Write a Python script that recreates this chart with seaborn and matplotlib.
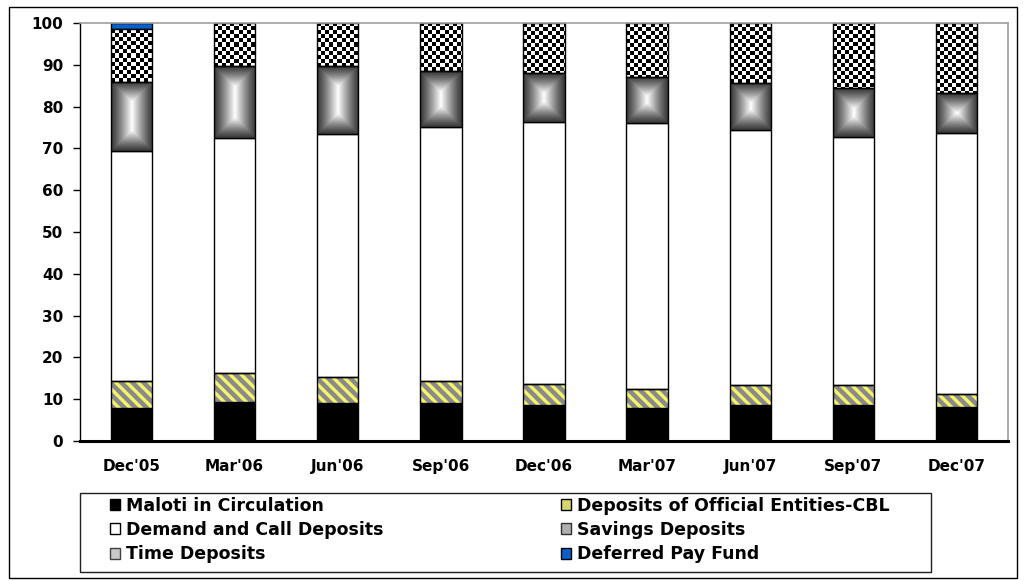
import numpy as np
import matplotlib
matplotlib.use("Agg")
import matplotlib.pyplot as plt
import seaborn as sns
from matplotlib.patches import Patch, Rectangle

quarters = ["Dec'05", "Mar'06", "Jun'06", "Sep'06", "Dec'06", "Mar'07", "Jun'07", "Sep'07", "Dec'07"]
maloti = [7.9, 9.4, 9.0, 9.0, 8.6, 7.8, 8.6, 8.6, 8.2]
cbl = [6.5, 6.9, 6.2, 5.3, 5.0, 4.6, 4.7, 4.7, 3.0]
demand = [55.0, 56.3, 58.2, 60.9, 62.8, 63.6, 61.1, 59.5, 62.6]
savings = [16.6, 17.0, 16.2, 13.2, 11.7, 11.2, 11.3, 11.6, 9.5]
time_dep = [12.5, 10.4, 10.4, 11.6, 11.9, 12.8, 14.3, 15.6, 16.7]
deferred = [1.5, 0, 0, 0, 0, 0, 0, 0, 0]
y_ticks = [0, 10, 20, 30, 40, 50, 60, 70, 80, 90, 100]

labels = ["Maloti in Circulation", "Deposits of Official Entities-CBL",
          "Demand and Call Deposits", "Savings Deposits",
          "Time Deposits", "Deferred Pay Fund"]

sns.set_style("white")
plt.rcParams["font.family"] = ["DejaVu Sans"]
plt.rcParams["font.weight"] = "bold"
plt.rcParams["hatch.linewidth"] = 2.4
plt.rcParams["text.color"] = "black"
plt.rcParams["xtick.color"] = "black"
plt.rcParams["ytick.color"] = "black"
plt.rcParams["xtick.labelcolor"] = "black"
plt.rcParams["ytick.labelcolor"] = "black"

W, H = 1026, 581
fig = plt.figure(figsize=(W / 100, H / 100), dpi=100)
ax = fig.add_axes([80 / W, (H - 441) / H, 928 / W, 418 / H])

series = [maloti, cbl, demand, savings, time_dep, deferred]
bottoms = []
acc = np.zeros(len(quarters))
for s in series:
    bottoms.append(acc.copy())
    acc = acc + np.array(s, dtype=float)

patch_groups = []
styles = [
    dict(color="black", edgecolor="black", linewidth=1),
    dict(color="#8a8a8a", edgecolor="#f4f46a", linewidth=0, hatch="\\\\\\"),
    dict(color="white", edgecolor="black", linewidth=1),
    dict(color="white", edgecolor="black", linewidth=1),
    dict(color="white", edgecolor="black", linewidth=1),
    dict(color="#0a5fc8", edgecolor="black", linewidth=1),
]
for s, b, st in zip(series, bottoms, styles):
    n0 = len(ax.patches)
    sns.barplot(x=quarters, y=s, bottom=b, order=quarters, width=0.4,
                errorbar=None, saturation=1, ax=ax, **st)
    patch_groups.append(list(ax.patches[n0:]))

ax.set_xlim(-0.5, len(quarters) - 0.5)
ax.set_ylim(0, 100)

# outlines for hatched bars
for p in patch_groups[1]:
    ax.add_patch(Rectangle((p.get_x(), p.get_y()), p.get_width(), p.get_height(),
                           fill=False, edgecolor="black", linewidth=1, zorder=3))

def px_size(p):
    a = ax.transData.transform((p.get_x(), p.get_y()))
    b = ax.transData.transform((p.get_x() + p.get_width(), p.get_y() + p.get_height()))
    return max(int(round(abs(b[0] - a[0]))), 1), max(int(round(abs(b[1] - a[1]))), 1)

# savings: rectangular gradient
for p in patch_groups[3]:
    if p.get_height() <= 0:
        continue
    wp, hp = px_size(p)
    ii, jj = np.mgrid[0:hp, 0:wp]
    d = np.minimum.reduce([ii + 0.5, hp - ii - 0.5, jj + 0.5, wp - jj - 0.5])
    t = d / (min(wp, hp) / 2.0)
    img = 0.22 + 0.78 * np.clip(t, 0, 1) ** 1.2
    ax.imshow(img, cmap="gray", vmin=0, vmax=1, aspect="auto", interpolation="bilinear",
              extent=(p.get_x(), p.get_x() + p.get_width(), p.get_y(), p.get_y() + p.get_height()),
              zorder=1.5)
    p.set_facecolor("none")
    p.set_zorder(2.5)

# time deposits: checkerboard
for p in patch_groups[4]:
    if p.get_height() <= 0:
        continue
    wp, hp = px_size(p)
    ii, jj = np.mgrid[0:hp, 0:wp]
    img = ((ii // 4 + jj // 4) % 2).astype(float)
    ax.imshow(img, cmap="gray", vmin=0, vmax=1, aspect="auto", interpolation="nearest",
              extent=(p.get_x(), p.get_x() + p.get_width(), p.get_y(), p.get_y() + p.get_height()),
              zorder=1.5)
    p.set_facecolor("none")
    p.set_zorder(2.5)

ax.set_xlim(-0.5, len(quarters) - 0.5)
ax.set_ylim(0, 100)
ax.set_xlabel("")
ax.set_ylabel("")
ax.set_yticks(y_ticks)
ax.set_yticklabels([str(v) for v in y_ticks], fontsize=11, fontweight="bold")
ax.set_xticks(range(len(quarters)))
ax.set_xticklabels(quarters, fontsize=11, fontweight="bold")
ax.tick_params(axis="x", which="major", length=0, pad=13)
ax.set_xticks([3.5, 7.5], minor=True)
ax.tick_params(axis="x", which="minor", length=5, width=1.5, color="black", direction="out")
ax.tick_params(axis="y", length=5, width=1, color="black", direction="out", pad=7, left=True)

for side in ["top", "right"]:
    ax.spines[side].set_visible(True)
    ax.spines[side].set_color("#a0a0a0")
    ax.spines[side].set_linewidth(1.2)
ax.spines["left"].set_color("black")
ax.spines["left"].set_linewidth(1)
ax.spines["bottom"].set_color("black")
ax.spines["bottom"].set_linewidth(2.2)
ax.spines["bottom"].set_zorder(4)

handles = [
    Patch(facecolor="black", edgecolor="black"),
    Patch(facecolor="white", edgecolor="black"),
    Patch(facecolor="#c8c8c8", edgecolor="#404040"),
    Patch(facecolor="#d6d66a", edgecolor="black"),
    Patch(facecolor="#b0b0b0", edgecolor="#303030"),
    Patch(facecolor="#0a5fc8", edgecolor="black"),
]
hlabels = [labels[0], labels[2], labels[4], labels[1], labels[3], labels[5]]
fig.legend(handles, hlabels, ncol=2, loc="upper left", mode="expand",
           bbox_to_anchor=(110 / W, 1 - 570 / H, (890 - 110) / W, (570 - 497) / H),
           frameon=False, borderpad=0, borderaxespad=0,
           prop=dict(family="DejaVu Sans", weight="bold", size=12.5),
           handlelength=0.6, handleheight=0.6, handletextpad=0.35,
           labelspacing=0.35, columnspacing=1.0)

# legend frame and outer chart border
fig.patches.append(Rectangle((80 / W, 1 - 572 / H), (931 - 80) / W, (572 - 493) / H,
                             transform=fig.transFigure, fill=False,
                             edgecolor="#202020", linewidth=1))
fig.patches.append(Rectangle((9 / W, 1 - 578 / H), (1017 - 9) / W, (578 - 7) / H,
                             transform=fig.transFigure, fill=False,
                             edgecolor="black", linewidth=1))

fig.savefig("out.png", dpi=100)
